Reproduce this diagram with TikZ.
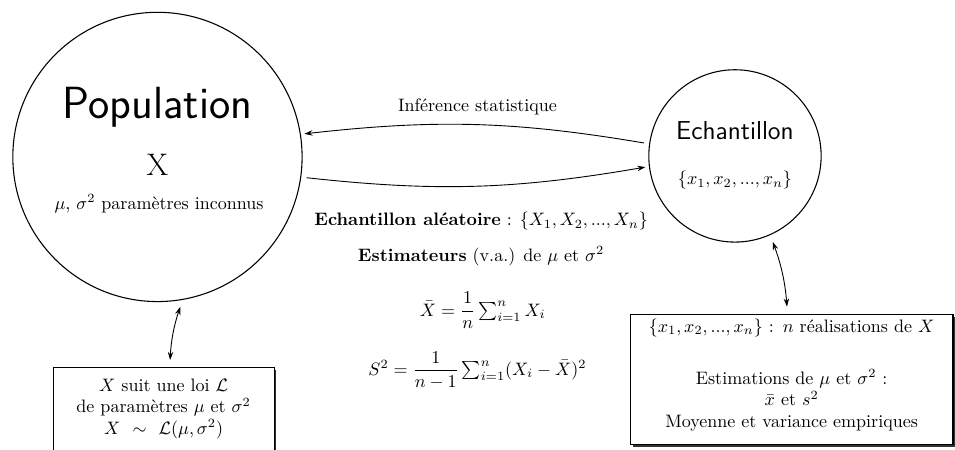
\documentclass[tikz,border=0pt]{standalone}
\usepackage{fontspec}
\usepackage{amsmath}
\usetikzlibrary{arrows.meta,shadows}

\begin{document}
\begin{tikzpicture}[
  rond/.style={circle, draw, line width=0.6pt, inner sep=0},
  cadre/.style={draw, line width=0.6pt, fill=white, align=center, inner xsep=0,
    drop shadow={shadow xshift=1.2pt, shadow yshift=-1.2pt, opacity=1, fill=black!80}},
  fleche/.style={-{Stealth[length=4.5pt,width=3pt]}, line width=0.5pt, shorten >=2pt, shorten <=3pt},
  aller/.style={{Stealth[length=4.5pt,width=3pt]}-{Stealth[length=4.5pt,width=3pt]}, line width=0.5pt, shorten >=4pt, shorten <=4pt}
]

\useasboundingbox (0,0) rectangle (18.62,-8.755);
\clip (0,0) rectangle (18.62,-8.755);

% Circles
\node[rond, minimum size=5.64cm] (pop) at (3.07,-3.06) {};
\node[rond, minimum size=3.36cm] (ech) at (14.33,-3.04) {};

% ---------- Population ----------
\node (poptitre) at (3.07,-2.10) {\fontsize{25}{30}\selectfont\sffamily Population};
\node (popvar) at (3.07,-3.21) {\LARGE X};
\node (popparam) at (3.10,-3.97) {$\mu$, $\sigma^2$ paramètres inconnus};

% ---------- Echantillon ----------
\node (echtitre) at (14.33,-2.55) {\Large\sffamily Echantillon};
\node (echval) at (14.33,-3.51) {$\{x_1, x_2, ..., x_n\}$};

% ---------- Centre ----------
\node (inference) at (9.31,-2.08) {Inférence statistique};
\node (aleatoire) at (9.38,-4.31) {\textbf{Echantillon aléatoire} : $\{X_1,X_2,...,X_n\}$};
\node (estimateurs) at (9.38,-5.00) {\textbf{Estimateurs} (v.a.) de $\mu$ et $\sigma^2$};
\node (moyenne) at (9.41,-6.05) {$\bar{X} = \dfrac{1}{n}\sum_{i=1}^{n} X_i$};
\node (variance) at (9.31,-7.22) {$S^2 = \dfrac{1}{n-1}\sum_{i=1}^{n} (X_i - \bar{X})^2$};

% ---------- Boxes ----------
\node[cadre, anchor=north, text width=4.31cm, inner ysep=0.21cm, text depth=1.25cm] (loi) at (3.19,-7.16) {
  $X$ suit une loi $\mathcal{L}$\\
  de paramètres $\mu$ et $\sigma^2$\\
  $X \sim \mathcal{L}(\mu,\sigma^2)$};

\node[cadre, anchor=north, text width=6.29cm, inner ysep=0.08cm, text depth=2.12cm] (estim) at (15.435,-6.12) {
  $\{x_1, x_2, ..., x_n\}$ : $n$ réalisations de $X$\\[17pt]
  Estimations de $\mu$ et $\sigma^2$ :\\
  $\bar{x}$ et $s^2$\\
  Moyenne et variance empiriques};

% ---------- Arrows ----------
\draw[fleche] (ech.172) to[bend right=8] (pop.9);
\draw[fleche] (pop.-8) to[bend right=8] (ech.-173);
\draw[aller] (pop.-80) to[bend right=8] ([xshift=0.12cm]loi.north);
\draw[aller] (ech.-66) to[bend left=8] ([xshift=-0.08cm]estim.north);

\end{tikzpicture}
\end{document}
